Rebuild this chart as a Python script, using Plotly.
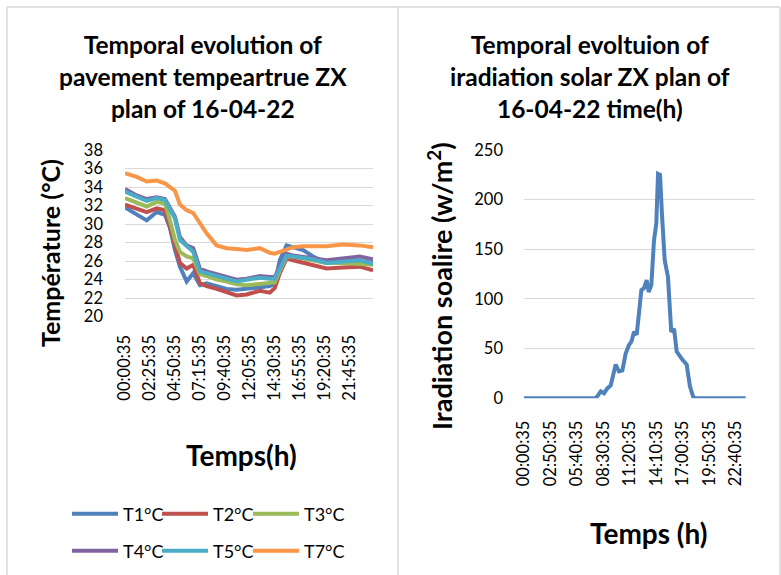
import plotly.graph_objects as go

W, H = 781, 575
def px(x): return x / W
def py(y): return 1 - y / H

# ---- Left chart data: time in minutes since 00:00:35 ----
t_left = [0, 68, 126, 184, 232, 261, 290, 319, 358, 396, 435, 474, 532, 590,
          648, 706, 783, 841, 870, 899, 938, 976, 1034, 1092, 1170, 1266, 1363, 1440]
T1 = [31.8, 31.0, 30.4, 31.3, 31.0, 29.6, 27.2, 25.4, 23.8, 24.7, 23.4, 23.6, 23.3, 23.0,
      22.9, 23.0, 23.2, 23.3, 23.6, 26.1, 27.7, 27.5, 27.2, 26.5, 25.8, 26.0, 26.0, 25.8]
T2 = [32.1, 31.7, 31.3, 31.7, 31.5, 29.7, 27.6, 25.8, 25.2, 25.6, 23.6, 23.3, 23.0, 22.7,
      22.3, 22.4, 22.8, 22.6, 23.1, 24.7, 26.3, 26.1, 25.8, 25.6, 25.2, 25.3, 25.4, 25.0]
T3 = [32.8, 32.3, 31.9, 32.4, 32.2, 30.4, 28.3, 27.0, 26.5, 26.3, 24.6, 24.4, 24.0, 23.8,
      23.5, 23.4, 23.5, 23.6, 23.7, 25.0, 26.5, 26.5, 26.3, 26.1, 25.8, 25.8, 25.7, 25.6]
T4 = [33.8, 33.1, 32.7, 32.9, 32.7, 31.8, 30.8, 28.6, 27.7, 27.4, 25.2, 24.9, 24.6, 24.3,
      24.0, 24.1, 24.4, 24.3, 24.3, 25.4, 26.8, 26.6, 26.5, 26.3, 26.1, 26.3, 26.5, 26.2]
T5 = [33.5, 33.0, 32.5, 32.8, 32.6, 31.6, 30.6, 28.3, 27.6, 27.0, 24.9, 24.7, 24.4, 24.1,
      23.8, 24.0, 24.2, 24.1, 24.1, 25.2, 26.6, 26.5, 26.4, 26.2, 25.8, 26.0, 26.1, 25.7]
T7 = [35.5, 35.1, 34.6, 34.7, 34.4, 34.0, 33.6, 32.1, 31.5, 31.2, 30.1, 29.0, 27.7, 27.4,
      27.3, 27.2, 27.4, 26.9, 26.8, 27.0, 27.3, 27.5, 27.6, 27.6, 27.6, 27.8, 27.7, 27.5]

left_tickvals = [0, 145, 290, 435, 580, 725, 870, 1015, 1160, 1305]
left_ticktext = ["00:00:35", "02:25:35", "04:50:35", "07:15:35", "09:40:35",
                 "12:05:35", "14:30:35", "16:55:35", "19:20:35", "21:45:35"]

# ---- Right chart data ----
t_right = [0, 460, 471, 493, 514, 535, 557, 578, 589, 610, 632, 653, 675, 690, 707, 724,
           739, 754, 771, 788, 801, 818, 835, 850, 861, 874, 886, 904, 925, 946, 964,
           981, 1017, 1045, 1066, 1088, 1103, 1424]
irradiation = [0, 0, 2, 7, 5, 10, 13, 25, 34, 27, 28, 45, 54, 57, 67, 64,
               86, 109, 111, 119, 107, 114, 159, 176, 226, 225, 186, 139, 122, 67, 70,
               47, 39, 34, 12, 1, 0, 0]
right_tickvals = [0, 170, 340, 510, 680, 850, 1020, 1190, 1360]
right_ticktext = ["00:00:35", "02:50:35", "05:40:35", "08:30:35", "11:20:35",
                  "14:10:35", "17:00:35", "19:50:35", "22:40:35"]

series_names = ["T1°C", "T2°C", "T3°C", "T4°C", "T5°C", "T7°C"]
series_values = [T1, T2, T3, T4, T5, T7]
series_colors = ["#4F81BD", "#C0504D", "#9BBB59", "#8064A2", "#4BACC6", "#F79646"]

FONT = "Lato"
fig = go.Figure()
legend_ids = ["legend", "legend2", "legend3", "legend4", "legend5", "legend6"]
for name, vals, col, lg in zip(series_names, series_values, series_colors, legend_ids):
    fig.add_trace(go.Scatter(x=t_left, y=vals, mode="lines", name=name,
                             line=dict(color=col, width=4), legend=lg,
                             xaxis="x", yaxis="y"))
fig.add_trace(go.Scatter(x=t_right, y=irradiation, mode="lines", showlegend=False,
                         line=dict(color="#4F81BD", width=4), xaxis="x2", yaxis="y2"))

grid = "#D9D9D9"
tickfont = dict(family=FONT, size=16.5, color="black")
legfont = dict(family=FONT, size=18, color="black")
fig.update_layout(
    width=W, height=H, margin=dict(l=0, r=0, t=0, b=0, autoexpand=False),
    paper_bgcolor="white", plot_bgcolor="white",
    font=dict(family=FONT, color="black"),
    xaxis=dict(domain=[px(125), px(373)], range=[0, 1440], tickvals=left_tickvals,
               ticktext=left_ticktext, tickangle=-90, showgrid=False, zeroline=False,
               showline=False, ticks="", tickfont=tickfont, ticklabelstandoff=14),
    yaxis=dict(domain=[py(316.7), py(150)], range=[20, 38], dtick=2, showgrid=True,
               gridcolor=grid, zeroline=False, showline=False, ticks="",
               tickfont=tickfont, ticklabelstandoff=21),
    xaxis2=dict(domain=[px(524), px(755)], range=[0, 1484], tickvals=right_tickvals,
                ticktext=right_ticktext, tickangle=-90, showgrid=False, zeroline=False,
                showline=False, ticks="", tickfont=tickfont, ticklabelstandoff=18,
                anchor="y2"),
    yaxis2=dict(domain=[py(398.3), py(150)], range=[0, 250], dtick=50, showgrid=True,
                gridcolor=grid, zeroline=False, showline=False, ticks="",
                tickfont=tickfont, ticklabelstandoff=20, anchor="x2"),
)

# one legend per entry, laid out in two rows of three as in the reference
leg_x = [67, 157, 248, 67, 157, 248]
leg_y = [514, 514, 514, 551, 551, 551]
for lg, lx, ly in zip(legend_ids, leg_x, leg_y):
    fig.update_layout({lg: dict(orientation="h", x=px(lx), y=py(ly), yanchor="middle",
                                xanchor="left", font=legfont, itemwidth=46,
                                bgcolor="rgba(0,0,0,0)")})

# Panel borders
border = dict(color="#D9D9D9", width=1.5)
fig.add_shape(type="line", xref="paper", yref="paper", x0=px(7), x1=px(780), y0=py(7), y1=py(7), line=border)
fig.add_shape(type="line", xref="paper", yref="paper", x0=px(7), x1=px(7), y0=py(7), y1=0, line=border)
fig.add_shape(type="line", xref="paper", yref="paper", x0=px(398), x1=px(398), y0=py(7), y1=0, line=border)
fig.add_shape(type="line", xref="paper", yref="paper", x0=px(780), x1=px(780), y0=py(7), y1=0, line=border)

def ann(text, x, y, angle=0, size=24):
    fig.add_annotation(text=text, x=px(x), y=py(y), xref="paper", yref="paper",
                       showarrow=False, textangle=angle, xanchor="center", yanchor="middle",
                       font=dict(family=FONT, size=size, color="black"))

ann("<b>Temporal evolution of<br>pavement tempeartrue ZX<br>plan of 16-04-22</b>", 203, 77, size=24.5)
ann("<b>Temporal evoltuion of<br>iradiation solar ZX plan of<br>16-04-22 time(h)</b>", 590, 77, size=24.5)
ann("<b>Température (°C)</b>", 50, 253, angle=-90, size=25)
ann("<b>Temps(h)</b>", 242, 455, size=28)
ann("<b>Iradiation soalire (w/m<sup>2</sup>)</b>", 440, 286, angle=-90, size=27)
ann("<b>Temps (h)</b>", 649, 533, size=28)

fig.write_html("out.html", config={"displayModeBar": False},
               post_script="document.body.style.margin='0';")
